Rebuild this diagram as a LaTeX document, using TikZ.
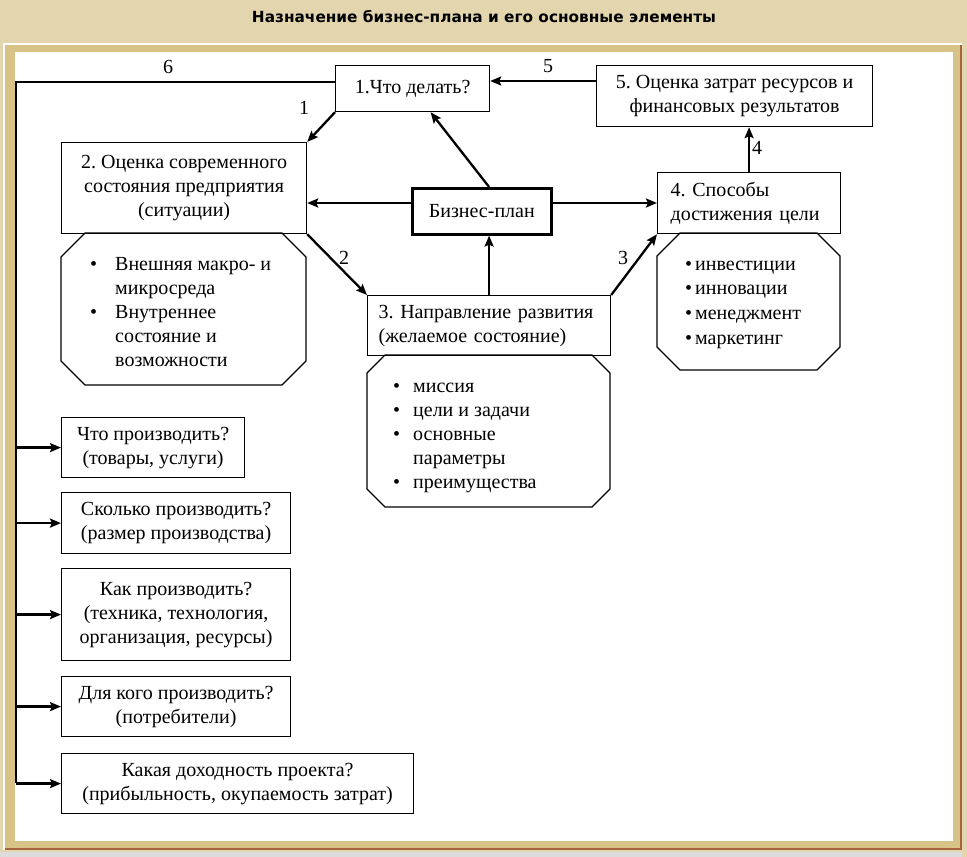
\documentclass[tikz,border=0pt]{standalone}
\usepackage{fontspec}
\setmainfont{Liberation Serif}
\newfontfamily\titlefont{DejaVu Sans}
\usetikzlibrary{arrows.meta}
\frenchspacing

\definecolor{pagebeige}{HTML}{E3D6AE}
\definecolor{framebeige}{HTML}{D7C387}
\definecolor{framebrown}{HTML}{A5643C}
\definecolor{pagegrey}{HTML}{DCDCDC}

\tikzset{
  txt/.style={font=\fontsize{20}{24}\selectfont},
  box/.style={txt, draw, line width=1.2pt, rectangle, inner sep=0pt, anchor=north west, align=center},
  leftbox/.style={box, align=left, inner xsep=11pt},
  planbox/.style={box, line width=2.6pt},
  octagon/.style={draw, line width=1.2pt, fill=white},
  items/.style={txt, inner sep=0pt, anchor=base west},
  lbl/.style={txt, inner sep=0pt},
  arr/.style={line width=2.3pt, -{Stealth[length=11pt,width=9pt,inset=2pt]}},
  spine/.style={line width=2pt}
}

\begin{document}
\begin{tikzpicture}[x=1pt,y=-1pt]
    \useasboundingbox (0,0) rectangle (967,857);
    % page and frame
    \fill[pagebeige] (0,0) rectangle (967,857);
    \fill[pagegrey] (0,852) rectangle (962,857);
    \fill[white] (3,43) rectangle (962,45);
    \fill[white] (3,43) rectangle (5,850);
    \fill[framebeige] (5,45) rectangle (960,848);
    \fill[framebrown] (960,45) rectangle (962,850);
    \fill[framebrown] (5,848) rectangle (962,850);
    \fill[white] (15,52) rectangle (953,841);

    \node[font=\titlefont\bfseries, inner sep=0pt] (title) at (484,17)
        {\resizebox{464pt}{!}{Назначение бизнес-плана и его основные элементы}};

    % octagons under the boxes
    \draw[octagon] (85,233) -- (282,233) -- (306,257) -- (306,361) -- (282,385)
        -- (85,385) -- (61,361) -- (61,257) -- cycle;
    \draw[octagon] (385,355) -- (592,355) -- (610,373) -- (610,489) -- (592,507)
        -- (385,507) -- (367,489) -- (367,373) -- cycle;
    \draw[octagon] (680,233) -- (817,233) -- (840,256) -- (840,347) -- (817,370)
        -- (680,370) -- (657,347) -- (657,256) -- cycle;

    % main boxes
    \node[box, minimum width=154pt, minimum height=46pt] (what) at (335,65) {1.Что делать?};
    \node[box, minimum width=276pt, minimum height=61pt] (costs) at (596,65)
        {5. Оценка затрат ресурсов и\\финансовых результатов};
    \node[box, minimum width=245pt, minimum height=91pt] (state) at (61,142)
        {2. Оценка современного\\состояния предприятия\\(ситуации)};
    \node[planbox, minimum width=139pt, minimum height=46pt] (plan) at (411,187) {Бизнес-план};
    \node[leftbox, inner xsep=13pt, text width=157pt, minimum height=61pt] (ways) at (657,172)
        {4. Способы\\достижения цели};
    \node[leftbox, text width=221pt, minimum height=60pt] (dir) at (367,295)
        {3. Направление развития\\(желаемое состояние)};

    % lists
    \node[items] (statelist) at (90,270) {\begin{tabular}[t]{@{}p{25pt}@{}l@{}}
        \textbullet & Внешняя макро- и\\ & микросреда\\
        \textbullet & Внутреннее\\ & состояние и\\ & возможности\end{tabular}};
    \node[items] (dirlist) at (393,392) {\begin{tabular}[t]{@{}p{20pt}@{}l@{}}
        \textbullet & миссия\\ \textbullet & цели и задачи\\
        \textbullet & основные\\ & параметры\\ \textbullet & преимущества\end{tabular}};
    \node[items, font=\fontsize{20}{24.7}\selectfont] (wayslist) at (685,270)
        {\begin{tabular}[t]{@{}p{10pt}@{}l@{}}
        \textbullet & инвестиции\\ \textbullet & инновации\\
        \textbullet & менеджмент\\ \textbullet & маркетинг\end{tabular}};

    % questions
    \node[box, minimum width=183pt, minimum height=60pt] (q1) at (61,417)
        {Что производить?\\(товары, услуги)};
    \node[box, minimum width=229pt, minimum height=61pt] (q2) at (61,492)
        {Сколько производить?\\(размер производства)};
    \node[box, minimum width=229pt, minimum height=92pt] (q3) at (61,568)
        {Как производить?\\(техника, технология,\\организация, ресурсы)};
    \node[box, minimum width=229pt, minimum height=60pt] (q4) at (61,676)
        {Для кого производить?\\(потребители)};
    \node[box, minimum width=352pt, minimum height=60pt] (q5) at (61,753)
        {Какая доходность проекта?\\(прибыльность, окупаемость затрат)};

    \coordinate (row5) at (0,81);
    \coordinate (row6) at (0,82);
    \coordinate (mid) at (0,203);
    \coordinate (spinetop) at (16,82);
    \coordinate (spinebot) at (16,783);

    % connectors
    \draw[arr] (costs.west |- row5) -- (what.east |- row5);
    \draw[spine] (what.west |- row6) -- (spinetop) -- (spinebot);
    \draw[arr] (what.south west) -- (state.north east);
    \draw[arr] (plan.west |- mid) -- (state.east |- mid);
    \draw[arr] (plan.east |- mid) -- (ways.west |- mid);
    \draw[arr] (dir.north |- plan.north) -- ([xshift=18pt]what.south);
    \draw[arr] (dir.north) -- (dir.north |- plan.south);
    \draw[arr] (state.south east) -- (dir.north west);
    \draw[arr] (dir.north east) -- (ways.south west);
    \draw[arr] (ways.north) -- (ways.north |- costs.south);
    \foreach \q in {q1,q2,q3,q4,q5}
        \draw[arr] (spinetop |- \q.west) -- (\q.west);

    % labels
    \node[lbl] (l6) at (168,67) {6};
    \node[lbl] (l5) at (548,66) {5};
    \node[lbl] (l1) at (304,108) {1};
    \node[lbl] (l4) at (757,148) {4};
    \node[lbl] (l2) at (344,258) {2};
    \node[lbl] (l3) at (623,258) {3};
\end{tikzpicture}
\end{document}
